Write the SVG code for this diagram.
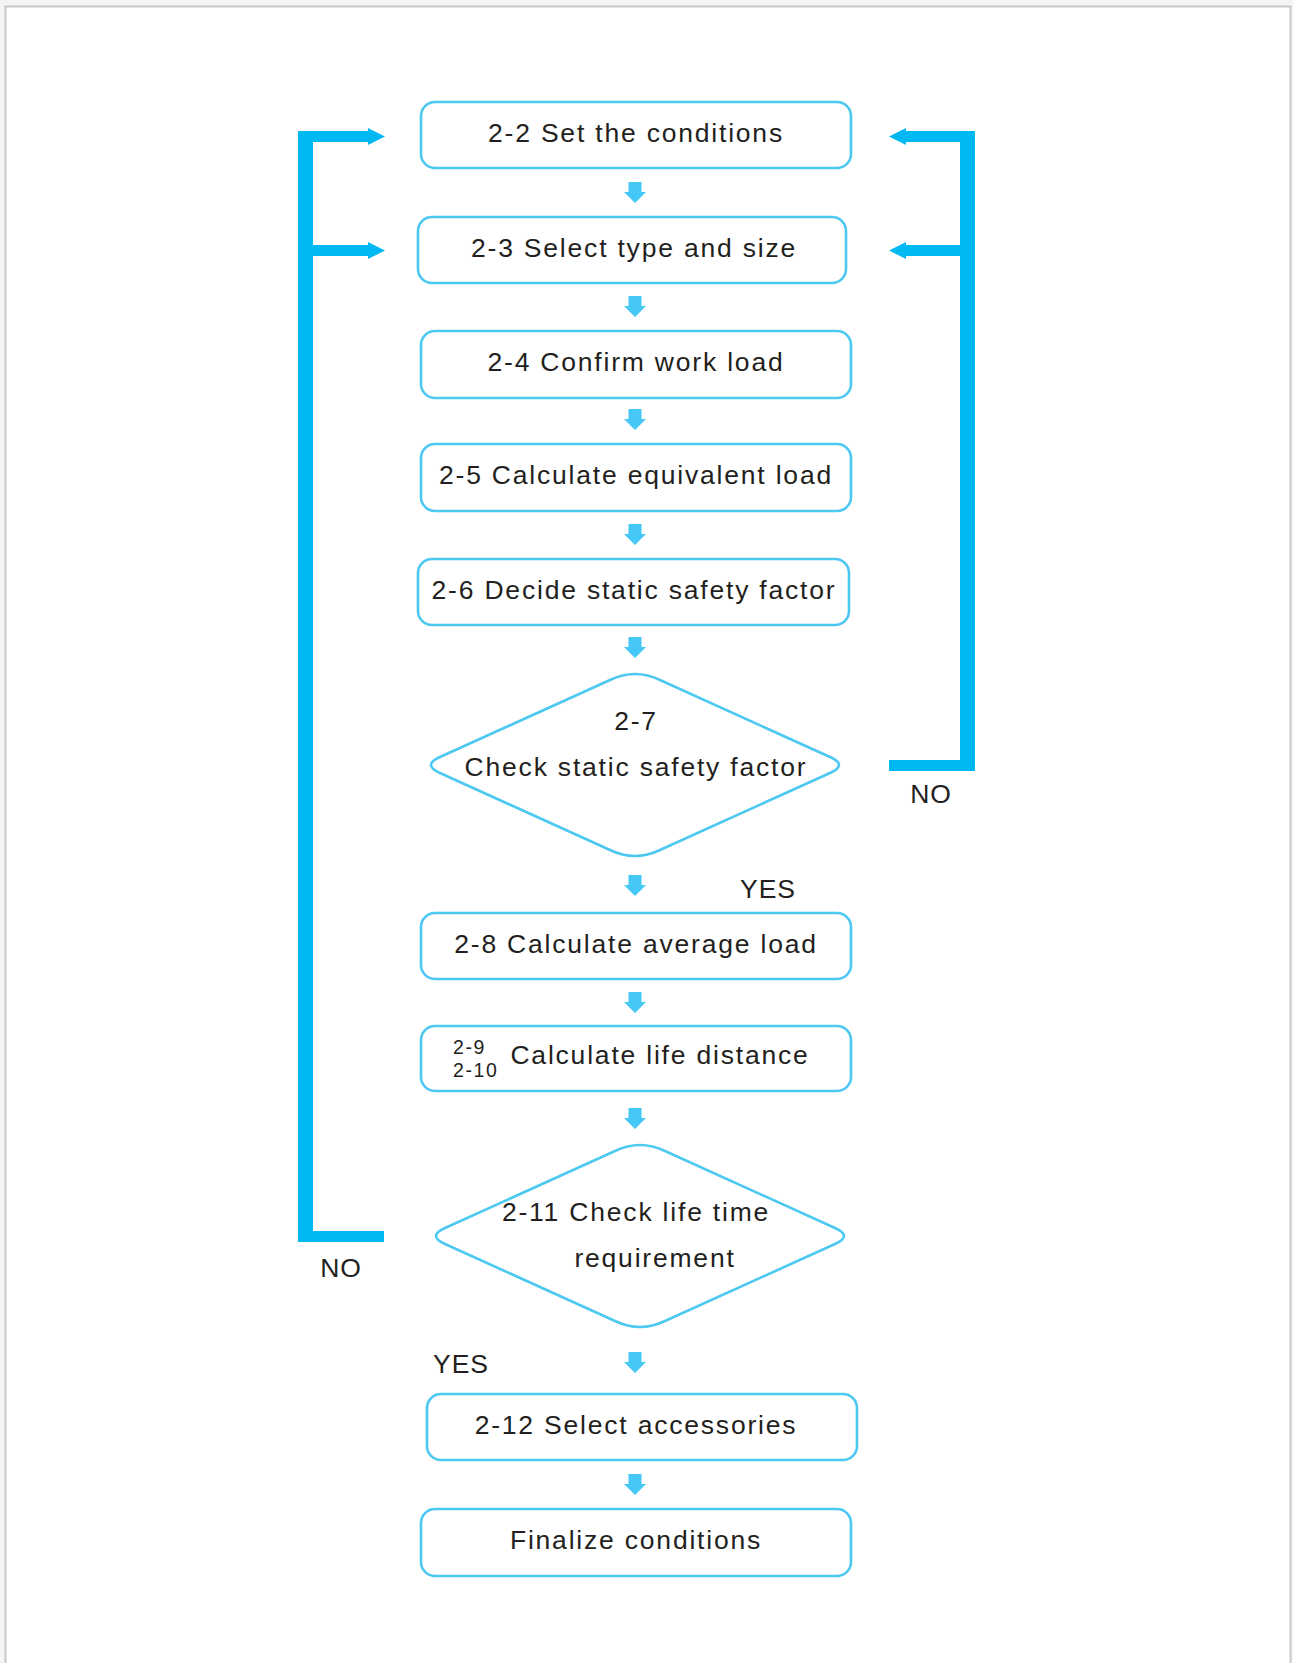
<svg xmlns="http://www.w3.org/2000/svg" width="1293" height="1663" viewBox="0 0 1293 1663">
<style>
.box{fill:#fff;stroke:#4cc8f1;stroke-width:2.6}
.t{font-family:"Liberation Sans",Arial,sans-serif;font-size:26.5px;letter-spacing:1.8px;fill:#231f20;text-anchor:middle}
.s{font-family:"Liberation Sans",Arial,sans-serif;font-size:19.5px;letter-spacing:1.6px;fill:#231f20}
.sa{fill:#45c8f5}
.big{fill:#00b9f2}
</style>
<defs>
<path id="dn" d="M-6.5,0 H6.5 V10 H11 L0,21 L-11,10 H-6.5 Z"/>
</defs>
<rect x="0" y="0" width="1293" height="1663" fill="#f4f4f5"/>
<rect x="5.5" y="6.5" width="1285" height="1700" fill="#fff" stroke="#c8c8cc" stroke-width="2"/>

<g id="connectors">
  <use href="#dn" class="sa" x="635" y="182"/>
  <use href="#dn" class="sa" x="635" y="296"/>
  <use href="#dn" class="sa" x="635" y="409"/>
  <use href="#dn" class="sa" x="635" y="524"/>
  <use href="#dn" class="sa" x="635" y="637"/>
  <use href="#dn" class="sa" x="635" y="875"/>
  <use href="#dn" class="sa" x="635" y="992"/>
  <use href="#dn" class="sa" x="635" y="1108"/>
  <use href="#dn" class="sa" x="635" y="1352"/>
  <use href="#dn" class="sa" x="635" y="1474"/>
  <!-- left loop -->
  <path class="big" d="M298,131 H368 V128 L385,136.5 L368,145 V142 H313 V245 H368 V242 L385,250.5 L368,259 V256 H313 V1231 H384 V1242 H298 Z"/>
  <!-- right loop -->
  <path class="big" d="M975,131 H906 V128 L889,136.5 L906,145 V142 H960 V245 H906 V242 L889,250.5 L906,259 V256 H960 V760 H889 V771 H975 Z"/>
  <text class="t" x="931" y="803" style="letter-spacing:1px">NO</text>
  <text class="t" x="768" y="898" style="letter-spacing:1px">YES</text>
  <text class="t" x="341" y="1277" style="letter-spacing:1px">NO</text>
  <text class="t" x="461" y="1373" style="letter-spacing:1px">YES</text>
</g>

<g id="n22"><rect class="box" x="421" y="102" width="430" height="66" rx="14"/><text class="t" x="636" y="142">2-2 Set the conditions</text></g>
<g id="n23"><rect class="box" x="418" y="217" width="428" height="66" rx="14"/><text class="t" x="634" y="257">2-3 Select type and size</text></g>
<g id="n24"><rect class="box" x="421" y="331" width="430" height="67" rx="14"/><text class="t" x="636" y="371">2-4 Confirm work load</text></g>
<g id="n25"><rect class="box" x="421" y="444" width="430" height="67" rx="14"/><text class="t" x="636" y="484">2-5 Calculate equivalent load</text></g>
<g id="n26"><rect class="box" x="418" y="559" width="431" height="66" rx="14"/><text class="t" x="634" y="599">2-6 Decide static safety factor</text></g>
<g id="n27"><path class="box" d="M610,680 Q635,668 660,680 L830,757 Q848,765 830,773 L660,850 Q635,862 610,850 L440,773 Q422,765 440,757 Z"/><text class="t" x="636" y="730">2-7</text><text class="t" x="636" y="776">Check static safety factor</text></g>
<g id="n28"><rect class="box" x="421" y="913" width="430" height="66" rx="14"/><text class="t" x="636" y="953">2-8 Calculate average load</text></g>
<g id="n29"><rect class="box" x="421" y="1026" width="430" height="65" rx="14"/><text class="s" x="453" y="1054">2-9</text><text class="s" x="453" y="1076.5">2-10</text><text class="t" x="660" y="1064">Calculate life distance</text></g>
<g id="n211"><path class="box" d="M615,1151 Q640,1139 665,1151 L835,1228 Q853,1236 835,1244 L665,1321 Q640,1333 615,1321 L445,1244 Q427,1236 445,1228 Z"/><text class="t" x="636" y="1221">2-11 Check life time</text><text class="t" x="655" y="1267">requirement</text></g>
<g id="n212"><rect class="box" x="427" y="1394" width="430" height="66" rx="14"/><text class="t" x="636" y="1434">2-12 Select accessories</text></g>
<g id="nfin"><rect class="box" x="421" y="1509" width="430" height="67" rx="14"/><text class="t" x="636" y="1549">Finalize conditions</text></g>
</svg>
